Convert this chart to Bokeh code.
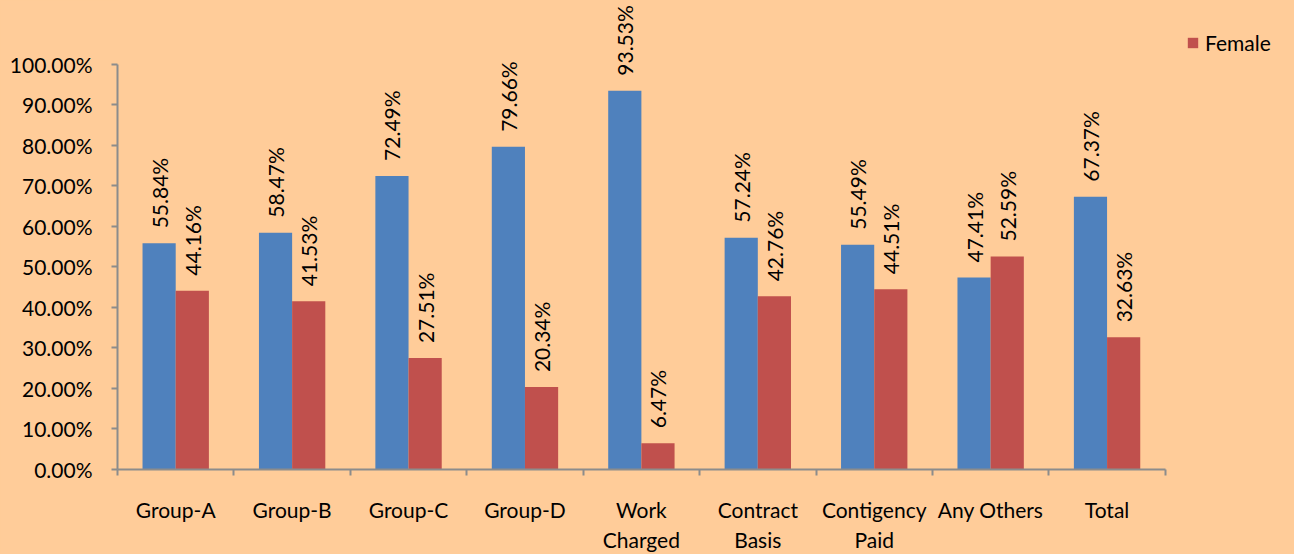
import numpy as np
from bokeh.plotting import figure
from bokeh.models import ColumnDataSource, Range1d, FixedTicker, Legend, LegendItem
from bokeh.transform import dodge
from bokeh.core.properties import value
from bokeh.embed import file_html
from bokeh.resources import INLINE

categories = ["Group-A", "Group-B", "Group-C", "Group-D", "Work\nCharged",
              "Contract\nBasis", "Contigency\nPaid", "Any Others", "Total"]
male = [55.84, 58.47, 72.49, 79.66, 93.53, 57.24, 55.49, 47.41, 67.37]
female = [44.16, 41.53, 27.51, 20.34, 6.47, 42.76, 44.51, 52.59, 32.63]
y_ticks = [0, 10, 20, 30, 40, 50, 60, 70, 80, 90, 100]

BG = "#FFCC99"
BLUE = "#4F81BD"
RED = "#C0504D"
AXC = "#8C8C8C"
FONT = "Lato"
FS = "21px"

centers = [i + 0.5 for i in range(len(categories))]
src = ColumnDataSource(dict(
    x=centers, male=male, female=female,
    male_lbl=[f"{v:.2f}%" for v in male],
    female_lbl=[f"{v:.2f}%" for v in female],
))

p = figure(width=1294, height=554, output_backend="svg", toolbar_location=None,
           x_range=Range1d(0, 10.11), y_range=Range1d(0, 115.8),
           min_border_left=117, min_border_right=0, min_border_top=0,
           min_border_bottom=85)
p.background_fill_color = BG
p.border_fill_color = BG
p.outline_line_color = None
p.grid.visible = False

w = 0.285
r1 = p.vbar(x=dodge("x", -w / 2), top="male", width=w, bottom=0, source=src,
            fill_color=BLUE, line_color=None)
r2 = p.vbar(x=dodge("x", w / 2), top="female", width=w, bottom=0, source=src,
            fill_color=RED, line_color=None)

for col, lbl, off in [("male", "male_lbl", -w / 2), ("female", "female_lbl", w / 2)]:
    p.text(x=dodge("x", off), y=col, text=lbl, source=src, angle=np.pi / 2,
           text_align="left", text_baseline="middle", x_offset=0, y_offset=-15,
           text_font=value(FONT), text_font_size=FS, text_color="black")

# x axis
xa = p.xaxis[0]
xa.ticker = FixedTicker(ticks=centers, minor_ticks=list(range(len(categories) + 1)))
xa.major_label_overrides = {c: lab for c, lab in zip(centers, categories)}
xa.bounds = (0, len(categories))
xa.major_tick_out = 0
xa.major_tick_in = 0
xa.minor_tick_out = 6
xa.minor_tick_in = 0
xa.minor_tick_line_color = AXC
xa.axis_line_color = AXC
xa.axis_line_width = 2
xa.minor_tick_line_width = 2
xa.major_label_standoff = 21
xa.major_label_text_font = FONT
xa.major_label_text_font_size = FS
xa.major_label_text_color = "black"
xa.major_label_text_line_height = 1.2

# y axis
ya = p.yaxis[0]
ya.ticker = FixedTicker(ticks=y_ticks, minor_ticks=[])
ya.major_label_overrides = {t: f"{t:.2f}%" for t in y_ticks}
ya.bounds = (0, 100)
ya.major_tick_out = 6
ya.major_tick_in = 0
ya.major_tick_line_color = AXC
ya.major_tick_line_width = 2
ya.axis_line_color = AXC
ya.axis_line_width = 2
ya.major_label_standoff = 19
ya.major_label_text_font = FONT
ya.major_label_text_font_size = FS
ya.major_label_text_color = "black"

legend = Legend(items=[LegendItem(label="Female", renderers=[r2])],
                location=(1069, 414), padding=0, margin=0, spacing=0,
                glyph_width=13, glyph_height=13, label_standoff=6,
                border_line_color=None, background_fill_alpha=0,
                label_text_font=FONT, label_text_font_size=FS,
                label_text_color="black")
p.add_layout(legend)

html = file_html(p, INLINE)
html = html.replace("</head>", "<style>html,body{margin:0;padding:0;background:#FFCC99;overflow:hidden;}</style></head>", 1)
open("out.html", "w").write(html)
